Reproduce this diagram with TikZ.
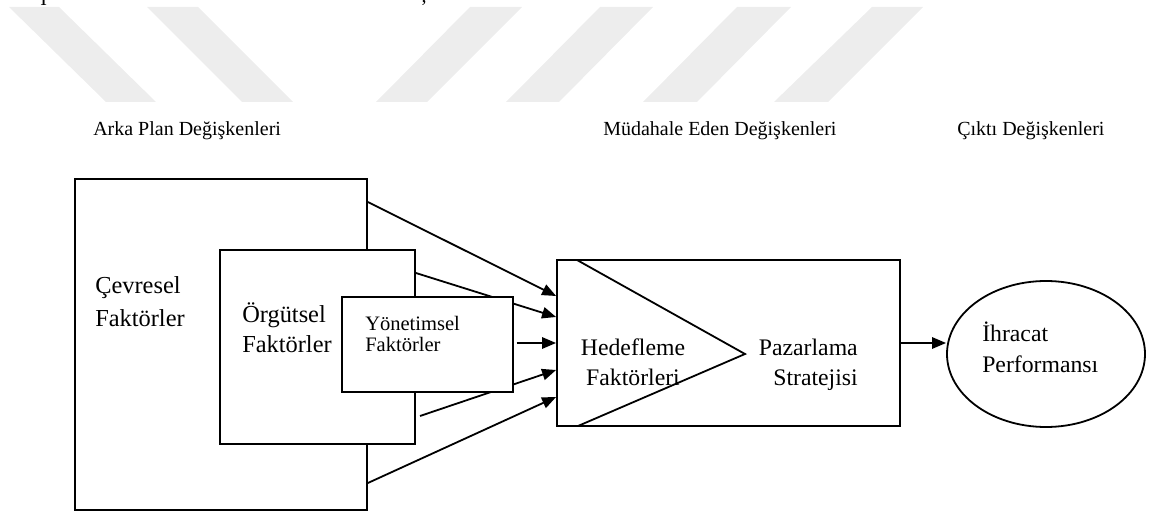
\documentclass[tikz,border=0pt]{standalone}
\usepackage{fontspec}
\setmainfont{Liberation Serif}
\usetikzlibrary{shapes.geometric,arrows.meta,fit}
\begin{document}
\begin{tikzpicture}[x=0.75pt,y=-0.75pt,
  box/.style={draw,line width=1.35pt,fill=white,inner sep=0pt},
  arr/.style={line width=1.35pt,-{Triangle[length=10.5pt,width=8.5pt]}},
  lbl/.style={inner sep=0pt,anchor=base west,align=left},
  head/.style={inner sep=0pt,anchor=base west,font=\fontsize{15pt}{18pt}\selectfont},
  stripe/.style={fill=black!7,draw=none}]
\useasboundingbox (0,0) rectangle (1150,513);

% light diagonal band pattern along the top
\fill[stripe] (9,7) -- (59,7) -- (156,102) -- (106,102) -- cycle;
\fill[stripe] (147,7) -- (198,7) -- (293,102) -- (242,102) -- cycle;
\fill[stripe] (470,7) -- (522,7) -- (427,102) -- (376,102) -- cycle;
\fill[stripe] (600,7) -- (653,7) -- (559,102) -- (506,102) -- cycle;
\fill[stripe] (737,7) -- (791,7) -- (697,102) -- (643,102) -- cycle;
\fill[stripe] (872,7) -- (923,7) -- (828,102) -- (774,102) -- cycle;

% remains of the preceding text line
\node[head] (frag1) at (40,6) {I};
\node[head] (frag2) at (421,3) {;};

% column headings
\node[head] (h1) at (93,136) {Arka Plan Değişkenleri};
\node[head] (h2) at (603,136) {Müdahale Eden Değişkenleri};
\node[head] (h3) at (957,136) {Çıktı Değişkenleri};

% nested factor boxes (label anchors sit on the last line's baseline)
\node[box,fit={(75,179)(367,510)}] (cev) {};
\node[lbl,font=\fontsize{18.3pt}{24.75pt}\selectfont] (cevt) at (95,327) {Çevresel\\Faktörler};
\node[box,fit={(220,250)(415,444)}] (org) {};
\node[lbl,font=\fontsize{18.3pt}{22.5pt}\selectfont] (orgt) at (242,353) {Örgütsel\\Faktörler};

% mediating box with the targeting wedge
\node[box,fit={(557,260)(900,426)}] (hed) {};
\coordinate (apex) at (745,354);
\draw[line width=1.35pt] (577,260) -- (apex) -- (578,426);
\node[inner sep=0pt,anchor=base,align=center,font=\fontsize{17.8pt}{21.75pt}\selectfont] (hedt) at (633,385) {Hedefleme\\Faktörleri};
\node[inner sep=0pt,anchor=base east,align=right,font=\fontsize{17.8pt}{21.75pt}\selectfont] (pazt) at (858,385) {Pazarlama\\Stratejisi};

% outcome
\node[draw,line width=1.35pt,ellipse,inner sep=0pt,minimum width=148.5pt,minimum height=109.5pt] (ihr) at (1046,354) {};
\node[lbl,font=\fontsize{17.8pt}{23.25pt}\selectfont] (ihrt) at (982,373) {İhracat\\Performansı};

% connectors passing behind the innermost box
\draw[arr] (cev.east |- 0,202) -- (hed.west |- 0,296);
\draw[arr] (org.east |- 0,273) -- (hed.west |- 0,317);
\draw[arr] (420,416) coordinate (s4) -- (hed.west |- 0,370);
\draw[arr] (cev.east |- 0,483) -- (hed.west |- 0,397);

% innermost box
\node[box,fit={(342,297)(513,392)}] (yon) {};
\node[lbl,font=\fontsize{15.4pt}{16.5pt}\selectfont] (yont) at (365,352) {Yönetimsel\\Faktörler};

\draw[arr] ([xshift=2pt]yon.east |- 0,343) -- (hed.west |- 0,343);
\draw[arr] (hed.east |- 0,343) -- (ihr.west |- 0,343);
\end{tikzpicture}
\end{document}
